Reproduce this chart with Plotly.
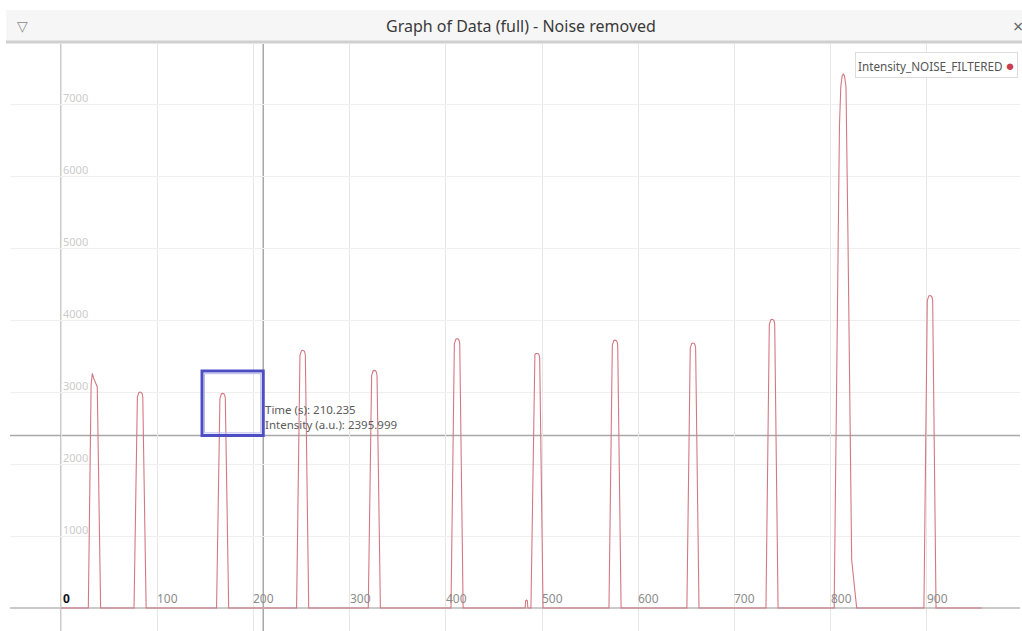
import plotly.graph_objects as go

# Noise-filtered intensity trace: time (s) and intensity (a.u.) samples
time_s = [
    0.0,
    # pulse 1
    28.4, 31.3, 32.6, 33.7, 37.7, 41.2,
    # pulse 2
    75.9, 79.4, 80.0, 81.0, 82.2, 83.4, 84.4, 85.0, 88.5,
    # pulse 3
    161.7, 165.2, 165.8, 166.8, 168.0, 169.2, 170.2, 170.8, 174.3,
    # pulse 4
    244.9, 248.4, 249.0, 250.0, 251.2, 252.4, 253.4, 254.0, 257.5,
    # pulse 5
    319.4, 322.9, 323.5, 324.5, 325.7, 326.9, 327.9, 328.5, 332.0,
    # pulse 6
    405.4, 408.9, 409.5, 410.5, 411.7, 412.9, 413.9, 414.5, 418.0,
    # small residual bump
    482.5, 483.0, 483.9, 484.8, 485.3,
    # pulse 7
    488.5, 492.0, 492.6, 493.6, 494.8, 496.0, 497.0, 497.6, 501.1,
    # pulse 8
    569.6, 573.1, 573.7, 574.7, 575.9, 577.1, 578.1, 578.7, 582.2,
    # pulse 9
    650.6, 654.1, 654.7, 655.7, 656.9, 658.1, 659.1, 659.7, 663.2,
    # pulse 10
    732.8, 736.3, 736.9, 737.9, 739.1, 740.3, 741.3, 741.9, 745.4,
    # pulse 11
    803.7, 809.2, 810.6, 812.0, 813.2, 814.4, 816.0, 818.0, 821.9, 827.1,
    # pulse 12
    897.0, 900.5, 901.1, 902.1, 903.3, 904.5, 905.5, 906.1, 909.6,
    957.0,
]
intensity = [
    0,
    0, 3100, 3260, 3200, 3070, 0,
    0, 2930, 2975, 2995, 3000, 2995, 2975, 2930, 0,
    0, 2910, 2955, 2975, 2980, 2975, 2955, 2910, 0,
    0, 3510, 3555, 3575, 3580, 3575, 3555, 3510, 0,
    0, 3230, 3275, 3295, 3300, 3295, 3275, 3230, 0,
    0, 3670, 3715, 3735, 3740, 3735, 3715, 3670, 0,
    0, 100, 110, 100, 0,
    0, 3470, 3515, 3535, 3540, 3535, 3515, 3470, 0,
    0, 3650, 3695, 3715, 3720, 3715, 3695, 3650, 0,
    0, 3610, 3655, 3675, 3680, 3675, 3655, 3610, 0,
    0, 3940, 3985, 4005, 4010, 4005, 3985, 3940, 0,
    0, 6690, 7240, 7390, 7420, 7390, 7240, 5200, 670, 0,
    0, 4270, 4315, 4335, 4340, 4335, 4315, 4270, 0,
    0,
]

x_ticks = [0, 100, 200, 300, 400, 500, 600, 700, 800, 900]
y_ticks = [1000, 2000, 3000, 4000, 5000, 6000, 7000]

# crosshair readout
cursor_time = 210.235
cursor_intensity = 2395.999
roi_x0 = 146.6
roi_y1 = 3290.0

series_name = "Intensity_NOISE_FILTERED"
title_text = "Graph of Data (full) - Noise removed"

FONT = "Noto Sans"
LINE_COLOR = "#d27882"
AXIS_COLOR = "#cacaca"

W, H = 1022, 631
ML, MR, MT, MB = 10, 2, 44, 0
plot_w = W - ML - MR
plot_h = H - MT - MB

fig = go.Figure()
fig.add_trace(go.Scatter(
    x=time_s, y=intensity, mode="lines", name=series_name,
    line=dict(color=LINE_COLOR, width=1.1), showlegend=False,
    hoverinfo="x+y",
))

# vertical axis line through x = 0, spanning the whole view
fig.add_shape(type="line", xref="x", yref="paper", x0=0, x1=0, y0=0, y1=1,
              line=dict(color=AXIS_COLOR, width=2), layer="below")

# x-axis tick labels drawn just right of each tick, above the baseline
for v in x_ticks:
    if v == 0:
        txt = "<b>0</b>"
        col = "#111111"
        dx = 0
    else:
        txt = str(v)
        col = "#8c8c8c"
        dx = -2
    fig.add_annotation(
        x=v, y=0, xref="x", yref="y", text=txt, showarrow=False,
        xanchor="left", yanchor="bottom", xshift=dx, yshift=-1,
        font=dict(family=FONT, size=12, color=col),
    )

# y-axis tick labels drawn right of the vertical axis, above each gridline
for v in y_ticks:
    fig.add_annotation(
        x=0, y=v, xref="x", yref="y", text=str(v), showarrow=False,
        xanchor="left", yanchor="middle", xshift=0, yshift=7,
        font=dict(family=FONT, size=11, color="#cbcbcb"),
    )

# crosshair lines
fig.add_shape(type="line", xref="x", yref="paper", x0=cursor_time, x1=cursor_time,
              y0=0, y1=1, line=dict(color="#a8a8a8", width=1.5), layer="below")
fig.add_shape(type="line", xref="paper", yref="y", x0=0, x1=1,
              y0=cursor_intensity, y1=cursor_intensity,
              line=dict(color="#a8a8a8", width=1.5), layer="below")

# selection box ending at the cursor
fig.add_shape(type="rect", xref="x", yref="y", x0=roi_x0, x1=cursor_time,
              y0=cursor_intensity, y1=roi_y1,
              line=dict(color="#4e4ec4", width=3))
fig.add_shape(type="rect", xref="x", yref="y", x0=roi_x0 + 2.6, x1=cursor_time - 2.6,
              y0=cursor_intensity + 36, y1=roi_y1 - 36,
              line=dict(color="#b8b8ee", width=1))

fig.add_annotation(
    x=cursor_time, y=cursor_intensity, xref="x", yref="y",
    text=f"Time (s): {cursor_time:.3f}<br>Intensity (a.u.): {cursor_intensity:.3f}",
    showarrow=False, xanchor="left", yanchor="bottom", align="left",
    xshift=0, yshift=1,
    font=dict(family=FONT, size=11.5, color="#5a5a5a"),
)

# legend box (label followed by a marker dot)
fig.add_annotation(
    x=(1018 - ML) / plot_w, y=(H - 52) / plot_h, xref="paper", yref="paper",
    text=(f"{series_name} "
          "<span style='color:#c8404c;font-size:15px'>●</span>"),
    showarrow=False, xanchor="right", yanchor="top",
    bgcolor="white", bordercolor="#dcdcdc", borderwidth=1, borderpad=2,
    font=dict(family=FONT, size=11.7, color="#555555"),
)

# title bar
bar_y0 = (H - 42) / plot_h
bar_y1 = (H - 10) / plot_h
fig.add_shape(type="rect", xref="paper", yref="paper",
              x0=(6 - ML) / plot_w, x1=(W - ML) / plot_w, y0=bar_y0, y1=bar_y1,
              fillcolor="#f6f6f6", line=dict(width=0), layer="above")
fig.add_shape(type="line", xref="paper", yref="paper",
              x0=(6 - ML) / plot_w, x1=(W - ML) / plot_w, y0=bar_y0, y1=bar_y0,
              line=dict(color="#d0d0d0", width=3), layer="above")
fig.add_annotation(
    x=(521 - ML) / plot_w, y=(H - 26) / plot_h, xref="paper", yref="paper",
    text=title_text, showarrow=False, xanchor="center", yanchor="middle",
    font=dict(family=FONT, size=16, color="#3a3a3a"),
)
fig.add_annotation(
    x=(22 - ML) / plot_w, y=(H - 26) / plot_h, xref="paper", yref="paper",
    text="▽", showarrow=False, xanchor="center", yanchor="middle",
    font=dict(family="DejaVu Sans", size=14, color="#8a8a8a"),
)
fig.add_annotation(
    x=(1018 - ML) / plot_w, y=(H - 26) / plot_h, xref="paper", yref="paper",
    text="×", showarrow=False, xanchor="center", yanchor="middle",
    font=dict(family=FONT, size=18, color="#666666"),
)

px_per_x = 0.962
px_per_y = 0.072
x_lo = -(61 - ML) / px_per_x
x_hi = x_lo + plot_w / px_per_x
y_lo = -(H - MB - 608) / px_per_y
y_hi = y_lo + plot_h / px_per_y

fig.update_layout(
    width=W, height=H,
    margin=dict(l=ML, r=MR, t=MT, b=MB),
    paper_bgcolor="white", plot_bgcolor="white",
    showlegend=False,
    font=dict(family=FONT),
    xaxis=dict(
        range=[x_lo, x_hi], tickvals=x_ticks, showticklabels=False,
        showgrid=True, gridcolor="#e6e6e6", gridwidth=1,
        zeroline=False, showline=False, ticks="",
    ),
    yaxis=dict(
        range=[y_lo, y_hi], tickvals=y_ticks, showticklabels=False,
        showgrid=True, gridcolor="#efefef", gridwidth=1,
        zeroline=True, zerolinecolor=AXIS_COLOR, zerolinewidth=2,
        showline=False, ticks="",
    ),
)

fig.write_html("out.html")
